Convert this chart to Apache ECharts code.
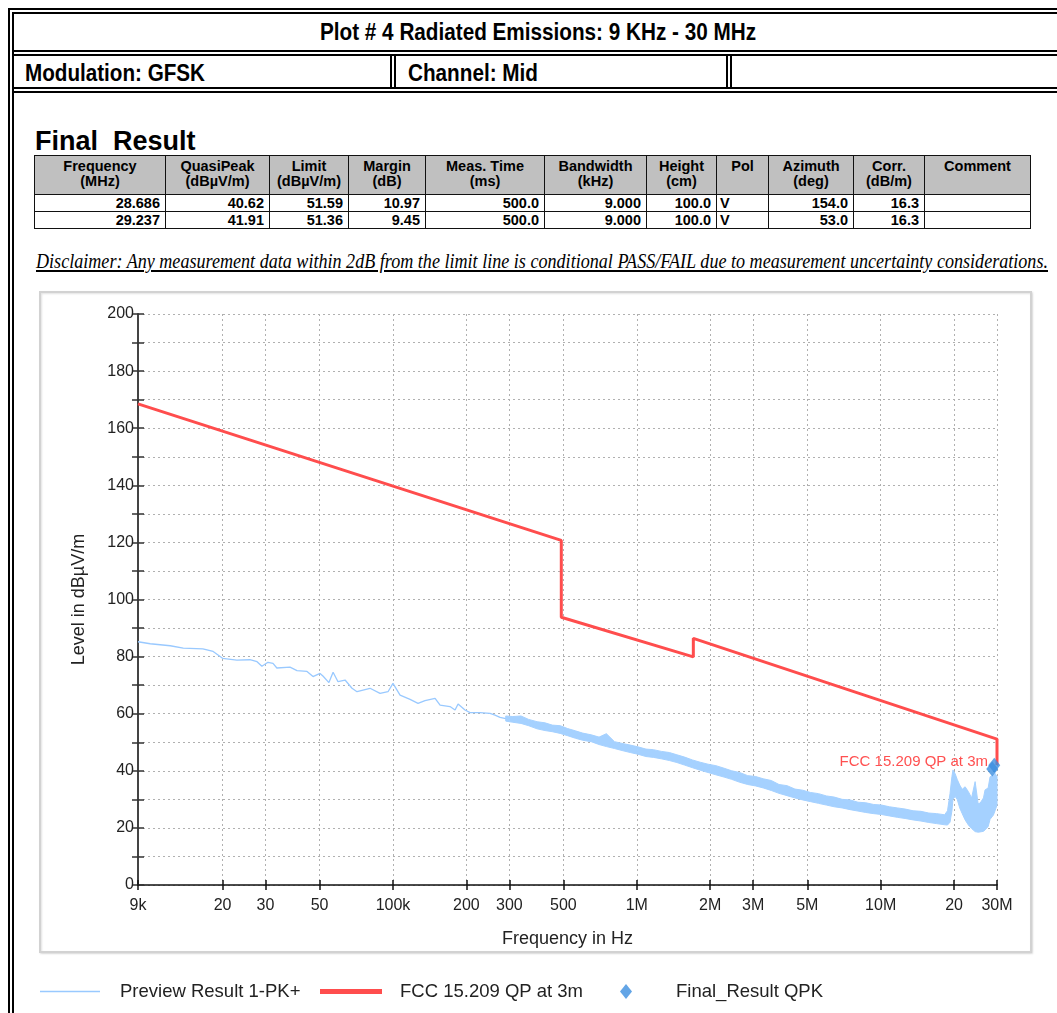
<!DOCTYPE html>
<html><head><meta charset="utf-8">
<script src="https://cdn.jsdelivr.net/npm/echarts@6/dist/echarts.min.js"></script>
<style>
html,body{margin:0;padding:0;background:#fff;width:1057px;height:1013px;overflow:hidden;}
#page{position:relative;width:1057px;height:1013px;font-family:"Liberation Sans",Arial,sans-serif;color:#000;}
.ln{position:absolute;}
.fit{position:absolute;white-space:nowrap;transform-origin:0 0;}
.hdr{font-family:"Liberation Sans Narrow","Arial Narrow","Liberation Sans",Arial,sans-serif;font-weight:bold;font-size:23px;line-height:24px;}
#fr{position:absolute;left:34px;top:155px;width:996px;table-layout:fixed;border-collapse:collapse;font-weight:bold;font-size:14.5px;}
#fr td{border:1.5px solid #111;padding:0 5px;overflow:hidden;white-space:nowrap;}
#fr tr.h td{background:#c0c0c0;text-align:center;vertical-align:top;line-height:15px;height:35px;padding-top:3px;padding-left:1px;padding-right:1px;}
#fr tr.d td{text-align:right;height:16px;line-height:16px;background:#fff;}
#fr tr.d td.l{text-align:left;padding-left:3px;}
#chart{position:absolute;left:0;top:0;width:1057px;height:1013px;}
</style></head>
<body><div id="page">
  <!-- outer double frame -->
  <div class="ln" style="left:8px;top:8px;width:1100px;height:1100px;border-left:6px double #000;border-top:6px double #000;"></div>
  <div class="ln" style="left:14px;top:50px;width:1100px;height:0;border-top:6px double #000;"></div>
  <div class="ln" style="left:14px;top:87px;width:1100px;height:0;border-top:6px double #000;"></div>
  <div class="ln" style="left:390px;top:56px;width:0;height:31px;border-left:6px double #000;"></div>
  <div class="ln" style="left:726px;top:56px;width:0;height:31px;border-left:6px double #000;"></div>

  <div class="fit hdr" data-w="436" style="left:320px;top:20px;">Plot # 4 Radiated Emissions: 9 KHz - 30 MHz</div>
  <div class="fit hdr" data-w="180" style="left:25px;top:61px;">Modulation: GFSK</div>
  <div class="fit hdr" data-w="130" style="left:408px;top:61px;">Channel: Mid</div>

  <div class="fit" style="left:35px;top:128px;font-weight:bold;font-size:27px;line-height:27px;">Final&nbsp; Result</div>

  <table id="fr">
    <colgroup>
      <col style="width:131px"><col style="width:104px"><col style="width:79px"><col style="width:77px">
      <col style="width:119px"><col style="width:102px"><col style="width:70px"><col style="width:52px">
      <col style="width:85px"><col style="width:71px"><col style="width:106px">
    </colgroup>
    <tr class="h"><td>Frequency<br>(MHz)</td><td>QuasiPeak<br>(dBµV/m)</td><td>Limit<br>(dBµV/m)</td><td>Margin<br>(dB)</td><td>Meas. Time<br>(ms)</td><td>Bandwidth<br>(kHz)</td><td>Height<br>(cm)</td><td>Pol</td><td>Azimuth<br>(deg)</td><td>Corr.<br>(dB/m)</td><td>Comment</td></tr>
    <tr class="d"><td>28.686</td><td>40.62</td><td>51.59</td><td>10.97</td><td>500.0</td><td>9.000</td><td>100.0</td><td class="l">V</td><td>154.0</td><td>16.3</td><td></td></tr>
    <tr class="d"><td>29.237</td><td>41.91</td><td>51.36</td><td>9.45</td><td>500.0</td><td>9.000</td><td>100.0</td><td class="l">V</td><td>53.0</td><td>16.3</td><td></td></tr>
  </table>

  <div class="fit" data-w="1012" style="left:36px;top:250px;font-family:'Liberation Serif','Times New Roman',serif;font-style:italic;font-size:21px;line-height:23px;text-decoration:underline;">Disclaimer: Any measurement data within 2dB from the limit line is conditional PASS/FAIL due to measurement uncertainty considerations.</div>

  <div id="chart"></div>
</div>
<script>
// ---------- data ----------
const tickFreqHz = [9e3, 2e4, 3e4, 5e4, 1e5, 2e5, 3e5, 5e5, 1e6, 2e6, 3e6, 5e6, 1e7, 2e7, 3e7];
const tickLabels = ['9k', '20', '30', '50', '100k', '200', '300', '500', '1M', '2M', '3M', '5M', '10M', '20', '30M'];
const levelMin = 0, levelMax = 200, levelStep = 10, levelLabelStep = 20;

// Preview Result 1-PK+ (smooth low-frequency part)
const previewFreqKHz = [9.0,10.1,12.2,13.8,16.6,18.3,20.0,22.9,25.9,27.7,29.0,30.7,32.2,33.4,37.8,40.4,44.4,47.0,50.2,51.6,54.6,56.8,59.5,63.6,67.9,71.2,80.5,88.5,95.4,100,106.9,117.5,126.7,135.3,148.8,156.0,171.3,179.7,184.9,197.4,207,227.5,250,262,274.8,290];
const previewLevel = [85.2,84.5,83.8,83.0,82.7,81.8,79.4,78.8,78.9,78.2,76.6,78.0,77.6,76.0,76.3,75.1,74.8,73.0,74.1,73.2,70.9,74.5,71.2,71.8,68.9,67.7,68.9,67.1,67.7,70.6,66.5,65.0,63.6,64.6,65.4,63.0,62.5,61.3,63.4,61.3,60.4,60.4,60.1,59.5,58.7,58.3];

// Preview Result 1-PK+ (noisy part: upper / lower envelope of the trace)
const bandFreqKHz = [290,310,335,360,390,420,450,485,520,560,600,650,700,750,810,870,940,1010,1090,1170,1260,1360,1460,1570,1690,1820,1960,2110,2280,2450,2640,2850,3070,3300,3560,3830,4130,4450,4790,5160,5560,5990,6450,6950,7490,8070,8690,9360,10080,10860,11700,12600,13580,14630,15760,16980,18290,18800,19250,19600,19800,20200,20600,21100,21600,22200,22900,23600,24400,25100,25600,26400,26800,27600,28100,29000,29450,30000];
const bandUpper = [59.2,59.0,59.2,58.0,57.2,56.8,56.0,55.8,54.8,54.0,53.2,52.6,51.8,53.0,50.2,49.6,49.0,48.4,47.6,47.4,46.8,46.4,45.6,44.8,43.8,43.0,42.3,41.8,40.9,40.0,39.4,38.3,38.0,37.2,36.6,35.2,34.8,33.6,33.2,32.4,32.0,31.2,30.8,30.0,29.8,29.0,28.8,28.2,28.0,27.4,27.0,26.6,26.0,25.8,25.2,25.0,24.6,26.0,32.0,38.0,40.3,39.0,37.0,35.0,33.5,34.4,32.7,30.5,36.2,28.5,28.7,30.5,33.3,34.0,37.9,38.5,39.1,38.0];
const bandLower = [57.4,57.0,56.6,55.8,54.7,54.1,53.7,53.1,52.3,51.4,50.7,50.2,49.2,48.5,47.8,47.1,46.4,45.8,45.0,44.7,44.2,43.6,42.9,42.0,41.1,40.2,39.4,38.6,37.8,37.0,36.0,35.2,34.7,34.0,33.1,32.1,31.3,30.5,29.8,29.2,28.6,28.0,27.4,27.0,26.4,25.9,25.4,25.0,24.7,24.2,23.7,23.3,22.8,22.4,21.9,21.5,21.1,21.0,22.0,26.0,30.0,31.0,30.0,27.0,25.0,22.8,21.0,19.8,18.7,18.5,18.6,18.8,19.3,20.5,23.0,24.5,26.0,28.0];

// FCC 15.209 QP at 3m limit
const limitFreqHz = [9e3, 490e3, 490e3, 1.705e6, 1.705e6, 30e6, 30e6];
const limitLevel = [168.5, 120.7, 93.8, 79.9, 86.4, 51.1, 42.0];

// Final_Result QPK
const finalFreqMHz = [28.686, 29.237];
const finalQP = [40.62, 41.91];

const names = ['Preview Result 1-PK+', 'FCC 15.209 QP at 3m', 'Final_Result QPK'];

// ---------- fit header texts ----------
document.querySelectorAll('.fit[data-w]').forEach(el => {
  const w = +el.dataset.w, nat = el.getBoundingClientRect().width;
  el.style.transform = 'scaleX(' + (w / nat) + ')';
});

// ---------- chart ----------
const lg = Math.log10;
const xMin = lg(tickFreqHz[0]), xMax = lg(tickFreqHz[tickFreqHz.length - 1]);
const tickPos = tickFreqHz.map(lg);
function tickLabel(v) {
  let best = 0;
  for (let i = 1; i < tickPos.length; i++) if (Math.abs(tickPos[i] - v) < Math.abs(tickPos[best] - v)) best = i;
  return tickLabels[best];
}
const FONT = '"Liberation Sans", Arial, sans-serif';
const chart = echarts.init(document.getElementById('chart'), null, {renderer: 'canvas'});

const xBase = {type: 'value', min: xMin, max: xMax, gridIndex: 0};
const yBase = {type: 'value', min: levelMin, max: levelMax, interval: levelStep, gridIndex: 0};
const legendText = {fontSize: 18.5, color: '#222', fontFamily: FONT};

chart.setOption({
  animation: false,
  backgroundColor: 'transparent',
  textStyle: {fontFamily: FONT},
  graphic: [{
    type: 'rect', z: -10, silent: true,
    shape: {x: 40, y: 292, width: 991, height: 660},
    style: {fill: '#fff', stroke: '#d2d2d2', lineWidth: 2, shadowColor: 'rgba(0,0,0,0.12)', shadowBlur: 2, shadowOffsetX: 1, shadowOffsetY: 1}
  }],
  grid: {left: 138, right: 60, top: 314, bottom: 128, containLabel: false},
  xAxis: [
    Object.assign({}, xBase, {
      name: 'Frequency in Hz', nameLocation: 'middle', nameGap: 45,
      nameTextStyle: {fontSize: 18, color: '#222', fontFamily: FONT},
      axisLine: {show: true, onZero: false, lineStyle: {color: '#111', width: 1.5}},
      axisTick: {show: true, customValues: tickPos, length: 5, lineStyle: {color: '#111', width: 1.5}},
      axisLabel: {show: true, customValues: tickPos, formatter: tickLabel, margin: 13, fontSize: 16, color: '#222', fontFamily: FONT},
      splitLine: {show: true, lineStyle: {color: '#b0b0b0', type: [2, 3], width: 1}}
    }),
    Object.assign({}, xBase, {
      position: 'bottom',
      axisLine: {show: false},
      axisTick: {show: true, inside: true, customValues: tickPos, length: 5, lineStyle: {color: '#111', width: 1.5}},
      axisLabel: {show: false}, splitLine: {show: false}
    })
  ],
  yAxis: [
    Object.assign({}, yBase, {
      name: 'Level in dBµV/m', nameLocation: 'middle', nameGap: 50,
      nameTextStyle: {fontSize: 18, color: '#222', fontFamily: FONT},
      axisLine: {show: true, lineStyle: {color: '#444', width: 2}},
      axisTick: {show: true, length: 6, lineStyle: {color: '#333', width: 1.5}},
      axisLabel: {margin: 4, fontSize: 16, color: '#222', fontFamily: FONT,
        formatter: v => (Math.round(v) % levelLabelStep === 0 ? String(Math.round(v)) : '')},
      splitLine: {show: true, lineStyle: {color: '#b0b0b0', type: [2, 3], width: 1}}
    }),
    Object.assign({}, yBase, {
      position: 'left',
      axisLine: {show: false},
      axisTick: {show: true, inside: true, length: 6, lineStyle: {color: '#333', width: 1.5}},
      axisLabel: {show: false}, splitLine: {show: false}
    })
  ],
  legend: [
    {data: [{name: names[0], icon: 'rect'}], left: 35, top: 977, itemWidth: 60, itemHeight: 1.5, selectedMode: false,
     textStyle: Object.assign({padding: [0, 0, 0, 15]}, legendText)},
    {data: [{name: names[1], icon: 'rect'}], left: 315, top: 977, itemWidth: 62, itemHeight: 5, selectedMode: false,
     textStyle: Object.assign({padding: [0, 0, 0, 13]}, legendText)},
    {data: [{name: names[2], icon: 'diamond'}], left: 615, top: 977, itemWidth: 12, itemHeight: 15, selectedMode: false,
     textStyle: Object.assign({padding: [0, 0, 0, 39]}, legendText)}
  ],
  series: [
    {
      type: 'custom', name: 'band', silent: true, z: 2, xAxisIndex: 0, yAxisIndex: 0,
      data: [[xMin, 0]],
      renderItem: (params, api) => {
        const pts = [];
        for (let i = 0; i < bandFreqKHz.length; i++) pts.push(api.coord([lg(bandFreqKHz[i] * 1e3), bandUpper[i]]));
        for (let i = bandFreqKHz.length - 1; i >= 0; i--) pts.push(api.coord([lg(bandFreqKHz[i] * 1e3), bandLower[i]]));
        return {type: 'polygon', shape: {points: pts}, style: {fill: '#a5d1ff', stroke: '#a5d1ff', lineWidth: 1}};
      }
    },
    {
      type: 'line', name: names[0], xAxisIndex: 0, yAxisIndex: 0, z: 3,
      symbol: 'none', showSymbol: false, color: '#99c9ff',
      itemStyle: {color: '#99c9ff'},
      lineStyle: {color: '#99c9ff', width: 1.3},
      data: previewFreqKHz.map((f, i) => [lg(f * 1e3), previewLevel[i]])
    },
    {
      type: 'line', name: names[1], xAxisIndex: 0, yAxisIndex: 0, z: 4,
      symbol: 'none', showSymbol: false, color: '#ff4d4d',
      itemStyle: {color: '#ff4d4d'},
      lineStyle: {color: '#ff4d4d', width: 3},
      data: limitFreqHz.map((f, i) => [lg(f), limitLevel[i]]),
      markPoint: {
        silent: true, symbol: 'circle', symbolSize: 0,
        label: {show: true, position: 'left', distance: 9, offset: [0, -3], color: '#ff5050', fontSize: 15, fontFamily: FONT, formatter: names[1]},
        data: [{coord: [lg(limitFreqHz[limitFreqHz.length - 1]), limitLevel[limitLevel.length - 1]]}]
      }
    },
    {
      type: 'scatter', name: names[2], xAxisIndex: 0, yAxisIndex: 0, z: 5,
      symbol: 'diamond', symbolSize: [12, 15], color: '#3c8fe0',
      itemStyle: {color: '#3c8fe0'},
      data: finalFreqMHz.map((f, i) => [lg(f * 1e6), finalQP[i]])
    }
  ]
});
</script>
</body></html>
